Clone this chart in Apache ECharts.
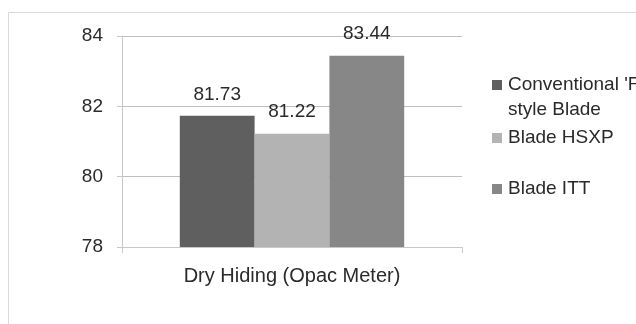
<!DOCTYPE html>
<html><head><meta charset="utf-8">
<script src="https://cdn.jsdelivr.net/npm/echarts@6/dist/echarts.min.js"></script>
<style>html,body{margin:0;padding:0;background:#fff}#c{width:636px;height:324px}</style>
</head><body><div id="c"></div>
<script>
const categories = ["Dry Hiding (Opac Meter)"];
const seriesNames = ["Conventional 'F' style Blade", "Blade HSXP", "Blade ITT"];
const conventional = [81.73];
const hsxp = [81.22];
const itt = [83.44];
const yTicks = [78, 80, 82, 84];

const colors = ['#5f5f5f', '#b3b3b3', '#878787'];
const font = 'Liberation Sans';
const txt = '#2a2a2a';
const values = [conventional, hsxp, itt];
const legendCenters = [85, 138, 189];
const chart = echarts.init(document.getElementById('c'));
chart.setOption({
  animation: false,
  graphic: [
    {type: 'rect', shape: {x: 8.5, y: 12.5, width: 640, height: 330}, style: {fill: 'none', stroke: '#d9d9d9', lineWidth: 1}},
    {type: 'text', left: 508, top: 100, style: {text: 'style Blade', font: '19px "Liberation Sans"', fill: txt}}
  ],
  grid: {left: 122, right: 174, top: 36, bottom: 77},
  legend: seriesNames.map((n, i) => ({
    data: [n], left: 492, top: legendCenters[i] - 11, orient: 'vertical',
    itemWidth: 10, itemHeight: 10, icon: 'rect', itemGap: 4, padding: 0,
    formatter: s => s === seriesNames[0] ? "Conventional 'F'" : s,
    textStyle: {fontFamily: font, fontSize: 19, color: txt, lineHeight: 22, padding: [0, 0, 0, 1]}
  })),
  xAxis: {
    type: 'category', data: categories,
    axisLine: {lineStyle: {color: '#c8c8c8'}},
    axisTick: {show: true, length: 6, lineStyle: {color: '#c8c8c8'}},
    axisLabel: {fontFamily: font, fontSize: 20, color: txt, margin: 19}
  },
  yAxis: {
    type: 'value', min: yTicks[0], max: yTicks[yTicks.length - 1], interval: 2,
    axisLine: {show: true, lineStyle: {color: '#c8c8c8'}},
    axisTick: {show: true, length: 5, lineStyle: {color: '#c8c8c8'}},
    splitLine: {lineStyle: {color: '#bfbfbf'}},
    axisLabel: {fontFamily: font, fontSize: 19, color: txt, margin: 19}
  },
  series: seriesNames.map((n, i) => ({
    name: n, type: 'bar', data: values[i], barGap: '0%', barCategoryGap: '34%',
    itemStyle: {color: colors[i]},
    label: {show: true, position: 'top', distance: 12, fontFamily: font, fontSize: 19, color: txt, formatter: p => p.value.toFixed(2)}
  }))
});
</script></body></html>
